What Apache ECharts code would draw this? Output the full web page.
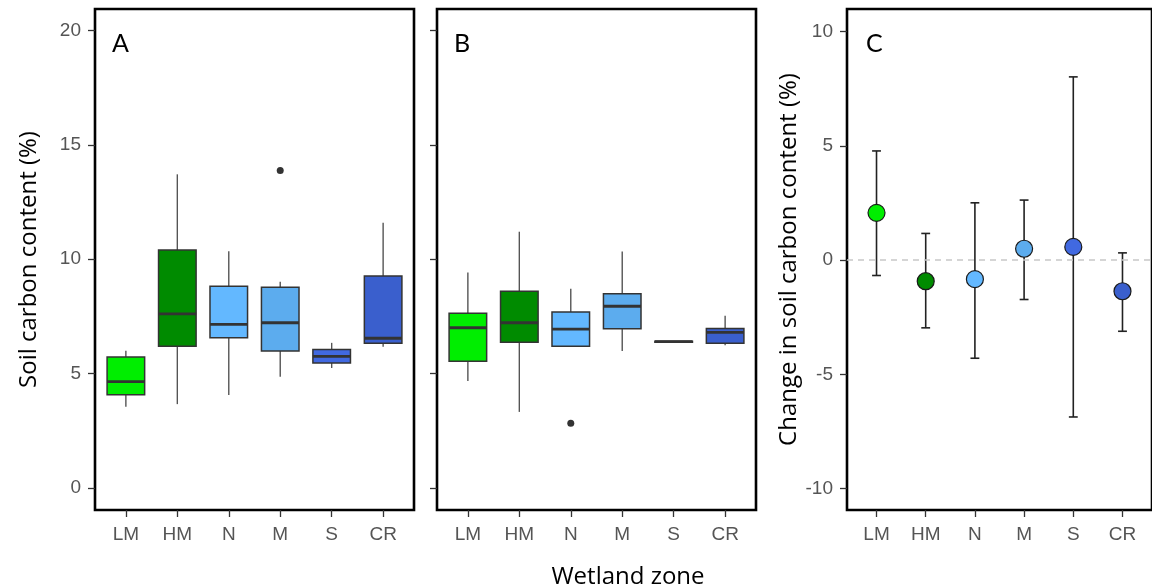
<!DOCTYPE html>
<html>
<head>
<meta charset="utf-8">
<script src="https://cdn.jsdelivr.net/npm/echarts@6/dist/echarts.min.js"></script>
<style>
html,body{margin:0;padding:0;background:#fff;}
#chart{width:1152px;height:587px;}
</style>
</head>
<body>
<div id="chart"></div>
<script>
// ---------- data ----------
const categories = ['LM', 'HM', 'N', 'M', 'S', 'CR'];
const zoneColors = ['#00EE00', '#008B00', '#63B8FF', '#5CACEE', '#4169E1', '#3A5FCD'];

// Panel A boxplots
const aMin = [3.54, 3.66, 4.06, 4.86, 5.24, 6.17];
const aQ1  = [4.07, 6.19, 6.56, 5.98, 5.46, 6.32];
const aMed = [4.64, 7.61, 7.15, 7.22, 5.75, 6.54];
const aQ3  = [5.72, 10.40, 8.82, 8.77, 6.05, 9.26];
const aMax = [5.99, 13.71, 10.35, 9.01, 6.34, 11.59];
const aOutlierZones = ['M'];
const aOutlierValues = [13.88];

// Panel B boxplots
const bMin = [4.67, 3.32, 6.19, 5.98, 6.36, 6.23];
const bQ1  = [5.53, 6.37, 6.19, 6.96, 6.37, 6.32];
const bMed = [7.00, 7.22, 6.94, 7.94, 6.39, 6.80];
const bQ3  = [7.63, 8.60, 7.69, 8.49, 6.41, 6.97];
const bMax = [9.42, 11.20, 8.71, 10.34, 6.42, 7.52];
const bOutlierZones = ['N'];
const bOutlierValues = [2.82];

// Panel C change (mean and interval)
const cMean  = [2.07, -0.92, -0.83, 0.50, 0.58, -1.36];
const cLower = [-0.67, -2.96, -4.29, -1.72, -6.86, -3.11];
const cUpper = [4.78, 1.17, 2.51, 2.63, 8.02, 0.32];

const yTicksAB = [0, 5, 10, 15, 20];
const yTicksC = [-10, -5, 0, 5, 10];

// ---------- helpers ----------
const idx = categories.map((_, i) => i);
const tickFont = {fontFamily: 'Liberation Sans', fontSize: 19, color: '#555555'};
const nameFont = {fontFamily: 'Open Sans', fontSize: 24, color: '#000'};

function xAxis(gi) {
  return {
    type: 'value', gridIndex: gi, min: -0.6, max: 5.6, position: 'bottom',
    axisLine: {show: false, onZero: false},
    splitLine: {show: false},
    axisTick: {show: true, customValues: idx, length: 7, lineStyle: {color: '#333', width: 1.3}},
    axisLabel: Object.assign({customValues: idx, margin: 15,
      formatter: v => categories[Math.round(v)]}, tickFont)
  };
}
function yAxis(gi, min, max, ticks, showLabels, name, gap) {
  return {
    type: 'value', gridIndex: gi, min: min, max: max, position: 'left',
    name: name, nameLocation: 'middle', nameGap: gap, nameTextStyle: nameFont,
    axisLine: {show: false, onZero: false},
    splitLine: {show: false},
    axisTick: {show: true, customValues: ticks, length: 7, lineStyle: {color: '#333', width: 1.3}},
    axisLabel: Object.assign({show: showLabels, customValues: ticks, margin: 14}, tickFont)
  };
}
function boxData(mn, q1, md, q3, mx) {
  return categories.map((c, i) => [i, mn[i], q1[i], md[i], q3[i], mx[i]]);
}
function boxRender(params, api) {
  const x = api.value(0);
  const pLo = api.coord([x, api.value(1)]);
  const pQ1 = api.coord([x, api.value(2)]);
  const pMd = api.coord([x, api.value(3)]);
  const pQ3 = api.coord([x, api.value(4)]);
  const pHi = api.coord([x, api.value(5)]);
  const hw = api.size([0.73, 0])[0] / 2;
  const color = zoneColors[params.dataIndex];
  return {
    type: 'group',
    children: [
      {type: 'line', shape: {x1: pQ3[0], y1: pQ3[1], x2: pHi[0], y2: pHi[1]}, style: {stroke: '#555', lineWidth: 1.4}},
      {type: 'line', shape: {x1: pQ1[0], y1: pQ1[1], x2: pLo[0], y2: pLo[1]}, style: {stroke: '#555', lineWidth: 1.4}},
      {type: 'rect', shape: {x: pQ3[0] - hw, y: pQ3[1], width: 2 * hw, height: pQ1[1] - pQ3[1]},
        style: {fill: color, stroke: '#333', lineWidth: 1.5}},
      {type: 'line', shape: {x1: pMd[0] - hw, y1: pMd[1], x2: pMd[0] + hw, y2: pMd[1]}, style: {stroke: '#333', lineWidth: 2.8}}
    ]
  };
}
function errRender(params, api) {
  const x = api.value(0);
  const pLo = api.coord([x, api.value(1)]);
  const pHi = api.coord([x, api.value(2)]);
  const cw = api.size([0.18, 0])[0] / 2;
  const st = {stroke: '#222', lineWidth: 1.6};
  return {
    type: 'group',
    children: [
      {type: 'line', shape: {x1: pLo[0], y1: pLo[1], x2: pHi[0], y2: pHi[1]}, style: st},
      {type: 'line', shape: {x1: pLo[0] - cw, y1: pLo[1], x2: pLo[0] + cw, y2: pLo[1]}, style: st},
      {type: 'line', shape: {x1: pHi[0] - cw, y1: pHi[1], x2: pHi[0] + cw, y2: pHi[1]}, style: st}
    ]
  };
}

const gridStyle = {show: true, borderColor: '#000', borderWidth: 2.6, backgroundColor: 'transparent', containLabel: false};

const option = {
  animation: false,
  backgroundColor: '#fff',
  grid: [
    Object.assign({left: 95, top: 9, width: 319, height: 501}, gridStyle),
    Object.assign({left: 437, top: 9, width: 319, height: 501}, gridStyle),
    Object.assign({left: 847, top: 9, width: 312, height: 501}, gridStyle)
  ],
  xAxis: [xAxis(0), xAxis(1), xAxis(2)],
  yAxis: [
    yAxis(0, -0.97, 20.94, yTicksAB, true, 'Soil carbon content (%)', 54),
    yAxis(1, -0.97, 20.94, yTicksAB, false, '', 0),
    yAxis(2, -10.93, 10.99, yTicksC, true, 'Change in soil carbon content (%)', 45)
  ],
  graphic: [
    {type: 'text', left: 112, top: 31, style: {text: 'A', font: '25px Lato', fill: '#000'}},
    {type: 'text', left: 454, top: 31, style: {text: 'B', font: '25px Lato', fill: '#000'}},
    {type: 'text', left: 866, top: 31, style: {text: 'C', font: '25px Lato', fill: '#000'}},
    {type: 'text', x: 628, y: 577, style: {text: 'Wetland zone', font: '24px "Open Sans"', fill: '#000', align: 'center', verticalAlign: 'middle'}}
  ],
  series: [
    {type: 'custom', xAxisIndex: 0, yAxisIndex: 0, renderItem: boxRender,
      encode: {x: 0, y: [1, 2, 3, 4, 5]}, data: boxData(aMin, aQ1, aMed, aQ3, aMax)},
    {type: 'scatter', xAxisIndex: 0, yAxisIndex: 0, symbolSize: 7, itemStyle: {color: '#333', opacity: 1},
      data: aOutlierZones.map((z, i) => [categories.indexOf(z), aOutlierValues[i]])},
    {type: 'custom', xAxisIndex: 1, yAxisIndex: 1, renderItem: boxRender,
      encode: {x: 0, y: [1, 2, 3, 4, 5]}, data: boxData(bMin, bQ1, bMed, bQ3, bMax)},
    {type: 'scatter', xAxisIndex: 1, yAxisIndex: 1, symbolSize: 7, itemStyle: {color: '#333', opacity: 1},
      data: bOutlierZones.map((z, i) => [categories.indexOf(z), bOutlierValues[i]])},
    {type: 'custom', xAxisIndex: 2, yAxisIndex: 2, renderItem: errRender,
      encode: {x: 0, y: [1, 2]}, data: categories.map((c, i) => [i, cLower[i], cUpper[i]]),
      z: 2},
    {type: 'scatter', xAxisIndex: 2, yAxisIndex: 2, symbolSize: 17, z: 3,
      data: categories.map((c, i) => ({value: [i, cMean[i]], itemStyle: {color: zoneColors[i], opacity: 1, borderColor: '#1a1a1a', borderWidth: 1.2}})),
      markLine: {silent: true, symbol: 'none', label: {show: false},
        lineStyle: {color: '#c8c8c8', type: [6, 5], width: 1.5},
        data: [{yAxis: 0}]}}
  ]
};

const chart = echarts.init(document.getElementById('chart'), null, {renderer: 'canvas'});
chart.setOption(option);
</script>
</body>
</html>
